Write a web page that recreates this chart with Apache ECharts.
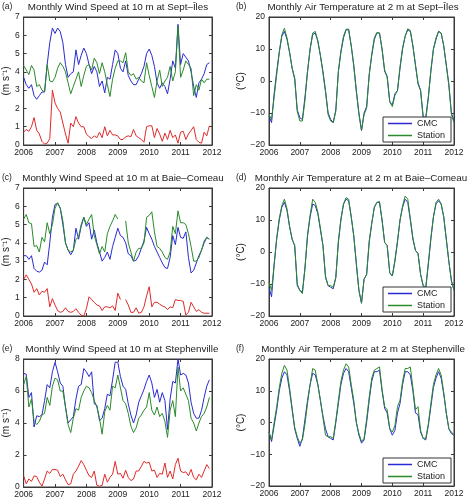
<!DOCTYPE html>
<html><head><meta charset="utf-8">
<script src="https://cdn.jsdelivr.net/npm/echarts@6/dist/echarts.min.js"></script>
<style>html,body{margin:0;padding:0;background:#fff}#c{width:472px;height:500px}</style>
</head><body><div id="c"></div>
<script>
// ---- tick labels ----
const yearTicks = [2006, 2007, 2008, 2009, 2010, 2011, 2012];
const startYear = 2006;

// ---- (a) Sept-Îles wind speed (m s-1), monthly Jan 2006 - Dec 2011 ----
const windA_cmc = [3.7,3.3,3.1,3.3,2.7,2.5,2.7,2.9,2.9,4.4,5.6,6.4,
  6.1,6.4,6.2,5.6,4.4,3.7,3.9,4.0,5.2,4.4,4.9,5.3,
  5.0,4.4,3.9,4.3,4.0,3.2,3.5,2.85,3.7,3.6,4.4,5.2,
  5.0,4.2,4.0,4.6,3.8,3.5,3.3,3.3,3.6,3.9,4.3,5.0,
  5.25,4.9,4.3,3.4,3.1,3.4,3.2,2.8,3.6,4.6,4.2,6.6,
  4.4,5.0,4.8,4.6,4.0,3.2,2.6,3.4,3.6,3.9,4.4,4.5];
const windA_stn = [4.35,4.1,3.85,4.35,4.1,3.2,3.3,3.0,2.9,4.4,3.5,3.45,
  3.7,4.2,4.5,4.3,4.0,3.4,2.8,3.2,3.6,4.0,3.2,3.8,
  4.3,4.4,4.1,4.75,4.5,3.9,4.5,4.0,3.3,2.65,3.6,4.2,
  4.6,4.6,4.5,5.05,4.0,3.8,3.9,3.6,3.7,3.5,3.4,4.5,
  3.8,3.2,2.6,3.5,4.1,3.2,3.5,3.7,4.3,3.5,4.0,6.5,
  3.7,4.1,4.6,4.4,4.2,2.7,3.3,3.0,3.6,3.4,3.6,3.6];
const windA_diff = [0.7,0.85,0.75,1.0,1.5,0.8,0.6,0.2,0.05,0.1,0.35,3.0,
  2.3,2.0,1.8,1.2,0.6,0.1,1.2,1.0,1.55,1.2,1.0,1.0,
  0.6,0.45,0.35,0.5,0.4,0.7,0.4,1.0,0.5,0.8,0.55,0.55,
  0.5,0.3,0.3,0.45,0.5,0.45,0.85,0.5,0.4,0.3,0.15,1.0,
  1.05,1.05,0.4,0.9,0.6,0.2,0.65,0.3,0.8,0.4,0.55,0.1,
  0.7,0.75,0.3,0.6,0.8,1.0,0.3,0.15,0.1,0.7,0.5,1.05];

// ---- (b) Sept-Îles air temperature (°C), Jan 2006 - Jan 2012 ----
const tempB_cmc = [-11,-13,-4,3,9,14,15.5,13,9,4,1,-9,
  -11.5,-12,-5,3,10,14.5,15,12.5,8,3,-3,-10,
  -12,-13,-9,3,9,13.5,16,16,11,5,-3,-10,
  -15.5,-10,-8,2,8,13,15,15,10,3,1.5,-6.5,
  -7.5,-4,-3,4,10,14,16,15.5,11,5,-0.5,-3,
  -11,-11.5,-5,3,10,13,15.5,15,11,5,-1,-10,
  -12.5];
const tempB_stn = [-10.5,-12,-5,2,9,14.5,16.5,13.5,9,4,0.5,-9.5,
  -12.5,-12.5,-6,3,10,15,15.5,12.5,8,2.5,-3.5,-10.5,
  -12.5,-13,-9.5,3,9.5,14,16.2,16.2,11,4.5,-3.5,-10.5,
  -15.5,-10.5,-8.5,2,8.5,13.5,15.2,15,10,3.5,1,-6.5,
  -8,-4.5,-3,4.5,10.5,14,16.3,15.8,11,5,-1,-3,
  -11.5,-12,-5.5,3.5,10,13.5,15.5,15,11,5,-1.5,-10.5,
  -13];

// ---- (c) Baie-Comeau wind speed ----
const windC_cmc = [3.3,3.3,3.1,3.3,2.6,2.45,2.4,2.5,2.95,2.8,4.0,5.4,
  6.1,6.15,5.9,5.0,4.0,3.6,3.35,3.6,4.8,4.2,4.9,5.4,
  4.9,5.1,4.2,4.7,4.0,3.5,3.0,3.2,3.5,3.1,3.8,4.3,
  4.8,4.4,4.3,4.0,3.4,3.3,3.0,3.05,3.3,3.7,4.1,4.85,
  4.5,4.2,3.8,3.5,3.2,2.9,2.65,2.6,3.2,4.4,3.9,4.85,
  4.3,4.25,4.6,3.2,2.35,2.5,2.9,3.3,3.6,4.0,4.3,4.2];
const windC_stn = [5.3,5.55,5.1,5.05,3.8,3.85,3.5,4.3,4.05,5.1,4.5,5.0,
  5.9,6.2,5.9,5.2,4.0,3.6,3.5,3.6,4.2,4.3,5.0,5.4,
  5.0,5.3,5.55,4.4,3.9,3.4,3.8,3.5,4.5,4.9,5.2,5.55,
  5.3,null,null,5.2,4.0,3.5,3.0,3.5,3.7,3.7,4.0,5.4,
  5.5,5.7,4.6,3.8,3.7,3.5,3.2,3.1,3.5,4.9,4.5,5.75,
  5.1,5.1,5.0,4.5,3.8,3.0,3.0,3.2,3.6,4.1,4.3,4.2];
const windC_diff = [2.0,2.25,2.0,1.75,1.3,1.5,1.15,1.35,1.3,1.5,0.5,0.95,
  0.6,0.3,0.2,0.25,0.45,0.25,0.2,0.25,0.4,0.2,0.05,0.0,
  0.4,1.05,0.9,0.75,0.6,0.55,0.3,0.5,0.5,0.45,0.55,0.3,
  1.25,0.9,null,0.9,0.6,0.2,0.2,0.45,0.15,0.2,0.5,1.1,
  1.6,0.5,0.75,0.75,0.65,0.55,0.5,0.35,0.5,0.45,0.9,0.85,
  0.85,0.8,0.05,0.2,0.75,0.5,0.25,0.35,0.2,0.15,0.15,0.15];

// ---- (d) Baie-Comeau air temperature ----
const tempD_cmc = [-11,-14,-4,4,10,14,15.5,13,8,4,2,-10.5,
  -12,-12.5,-5,5,11,15,14.5,12,7,2,-8,-10.5,
  -11,-11.5,-8,3,10,15,16.5,16,11,5,-4,-12,
  -16,-8.5,-7,3,9,14,15.5,15.5,10,3,2,-6.5,
  -7.5,-3,3,10,14,16.5,15.5,10,4,0.5,-0.5,-7,
  -10.5,-11.5,-4,4,11,15,16,15,11,4,-3,-9,
  -12];
const tempD_stn = [-9.5,-12,-4,4.5,10.5,14.5,16.5,13.5,8,4,2,-10,
  -12,-13,-5,5.5,11.5,16.5,15.5,12.5,7.5,2,-7.5,-10.5,
  -10.5,-11,-8,3.5,10.5,15,17,16.5,11,5,-3.5,-12,
  -16,-8.5,-7,3.5,9,14,15.5,15.8,10,3,2,-6.5,
  -7.5,-2.5,3.5,10,14.5,17.5,16.5,10.5,4.5,0.5,-0.5,-7,
  -10.5,-11,-3.5,4.5,11,15.5,16.5,15,11,4,-3,-9,
  -12];

// ---- (e) Stephenville wind speed ----
const windE_cmc = [7.1,7.05,5.6,5.9,3.75,4.45,4.4,4.5,5.4,6.4,6.2,7.2,
  7.8,7.2,6.5,6.3,5.0,4.0,4.2,4.4,5.5,6.3,6.4,7.4,
  7.2,6.9,7.2,5.2,5.1,4.15,4.3,4.9,5.8,5.7,6.7,7.8,
  7.8,6.9,6.3,6.1,5.2,4.5,4.0,4.5,5.3,5.7,6.1,6.6,
  7.0,6.5,5.6,6.1,5.3,5.9,5.4,3.6,5.5,6.6,6.5,8.0,
  7.0,7.1,7.0,6.5,5.3,4.6,4.3,4.3,4.8,5.6,6.3,6.7];
const windE_stn = [6.4,6.9,5.0,5.5,4.1,3.9,4.1,4.5,4.6,5.6,5.1,6.3,
  6.8,6.7,6.0,6.0,5.0,3.9,3.4,4.3,4.9,4.8,5.6,6.0,
  6.3,6.2,5.9,5.4,5.0,4.3,3.3,4.7,5.1,4.8,6.3,6.2,
  7.0,6.2,5.4,5.2,4.6,3.8,3.4,3.7,4.3,4.5,4.8,5.0,
  5.9,4.8,4.5,5.0,4.4,4.6,4.1,3.1,4.8,5.4,4.4,7.5,
  6.0,6.2,5.8,5.4,4.3,4.0,3.5,4.0,4.4,4.6,5.0,5.6];
const windE_diff = [0.7,0.2,0.5,0.35,0.7,0.65,0.3,0.05,0.5,1.0,0.85,1.1,
  1.1,1.05,0.65,0.8,0.45,0.15,0.2,0.8,1.0,1.3,1.65,1.4,
  1.05,0.7,0.6,1.0,0.1,0.05,0.1,0.8,0.3,0.6,0.8,1.6,
  0.8,0.85,0.55,1.05,0.6,0.4,0.5,1.0,1.0,1.3,1.6,1.5,
  1.55,1.0,1.05,0.6,0.85,0.8,1.5,0.6,1.0,0.5,1.4,1.8,
  1.0,0.9,0.95,0.7,1.1,0.6,0.45,0.8,0.6,1.0,1.4,1.15];

// ---- (f) Stephenville air temperature ----
const tempF_cmc = [-3,-6,-1,4,10,14,16,15,10,4,-2,-5,
  -7.5,-5,1,7,12,15.5,15,12,7,2,-2,-4.5,
  -5,-5.5,0,6,12,15.5,17,16,11,6,0,-4,
  -6.5,-5.5,0,7,13,16,16,16.5,10,4.5,3,-2,
  -4,-2.5,3,6,12,16,16,15,10,3,2.5,-3,
  -5,-5.5,-1,5,11,14,16,14,9,3,-2,-3.5,
  -4];
const tempF_stn = [-3,-5.5,0,5,11,15.5,18,16.5,11,4.5,-1.5,-4.5,
  -6.5,-5.5,-0.5,6,12,17,16.5,12,7,1.5,-4,-4.5,
  -4.5,-5,0.5,7,13,16.5,18.5,17.5,12,7,0,-3.5,
  -6,-5,1,8,14,16.5,17,17.5,10.5,5,4,-2,
  -3,-1,5,7,13,17,17,17.5,11,4,5,-2.5,
  -5,-5,-0.5,6,12,15,17,15,9.5,3,-2,-3,
  -4];

const C_BLUE = '#2a2ad2', C_GREEN = '#2a8a2a', C_RED = '#e02a2a';
const FONT = 'Liberation Sans';

const panels = [
  {tag:'(a)', title:'Monthly Wind Speed at 10 m at Sept\u2013\u00CEles', left:23, top:17, w:189, h:128, tcx:118,
   ymin:0, ymax:7, yint:1, yname:'(m s\u207B\u00B9)', nameGap:10,
   lines:[['CMC',windA_cmc,C_BLUE],['Station',windA_stn,C_GREEN],['Difference',windA_diff,C_RED]]},
  {tag:'(b)', title:'Monthly Air Temperature at 2 m at Sept\u2013\u00CEles', left:269, top:17, w:185, h:128, tcx:363,
   ymin:-20, ymax:20, yint:10, yname:'(\u00B0C)', nameGap:20, legendTop:117,
   lines:[['CMC',tempB_cmc,C_BLUE],['Station',tempB_stn,C_GREEN]]},
  {tag:'(c)', title:'Monthly Wind Speed at 10 m at Baie\u2013Comeau', left:23, top:188, w:189, h:128, tcx:123,
   ymin:0, ymax:7, yint:1, yname:'(m s\u207B\u00B9)', nameGap:10,
   lines:[['CMC',windC_cmc,C_BLUE],['Station',windC_stn,C_GREEN],['Difference',windC_diff,C_RED]]},
  {tag:'(d)', title:'Monthly Air Temperature at 2 m at Baie\u2013Comeau', left:269, top:188, w:185, h:128, tcx:361,
   ymin:-20, ymax:20, yint:10, yname:'(\u00B0C)', nameGap:20, legendTop:287,
   lines:[['CMC',tempD_cmc,C_BLUE],['Station',tempD_stn,C_GREEN]]},
  {tag:'(e)', title:'Monthly Wind Speed at 10 m at Stephenville', left:23, top:359, w:189, h:128, tcx:122,
   ymin:0, ymax:8, yint:2, yname:'(m s\u207B\u00B9)', nameGap:10,
   lines:[['CMC',windE_cmc,C_BLUE],['Station',windE_stn,C_GREEN],['Difference',windE_diff,C_RED]]},
  {tag:'(f)', title:'Monthly Air Temperature at 2 m at Stephenville', left:269, top:359, w:185, h:127, tcx:363,
   ymin:-20, ymax:20, yint:10, yname:'(\u00B0C)', nameGap:20, legendTop:458,
   lines:[['CMC',tempF_cmc,C_BLUE],['Station',tempF_stn,C_GREEN]]}
];

const grids = [], xAxes = [], yAxes = [], series = [], titles = [], legends = [];
const lineCol = '#3a3a3a';
const minus = v => String(v).replace('-', '\u2212');

panels.forEach((p, k) => {
  grids.push({left:p.left, top:p.top, width:p.w, height:p.h, show:true, borderColor:lineCol, borderWidth:1, backgroundColor:'#fff'});
  const xa = {type:'value', gridIndex:k, min:yearTicks[0], max:yearTicks[yearTicks.length-1], interval:1,
    axisLine:{show:true, onZero:false, lineStyle:{color:lineCol, width:1}},
    axisTick:{show:true, inside:true, length:3, lineStyle:{color:lineCol}},
    axisLabel:{show:true, fontSize:8.5, color:'#222', fontFamily:FONT, margin:3, formatter:v=>String(v)},
    splitLine:{show:false}};
  xAxes.push(xa);
  xAxes.push(Object.assign({}, xa, {position:'top', axisLabel:{show:false}}));
  const ya = {type:'value', gridIndex:k, min:p.ymin, max:p.ymax, interval:p.yint,
    name:p.yname, nameLocation:'middle', nameGap:p.nameGap, nameRotate:90,
    nameTextStyle:{fontSize:10, color:'#222', fontFamily:FONT},
    axisLine:{show:true, onZero:false, lineStyle:{color:lineCol, width:1}},
    axisTick:{show:true, inside:true, length:3, lineStyle:{color:lineCol}},
    axisLabel:{show:true, fontSize:8.5, color:'#222', fontFamily:FONT, margin:4, formatter:minus},
    splitLine:{show:false}};
  yAxes.push(ya);
  yAxes.push(Object.assign({}, ya, {position:'right', name:'', axisLabel:{show:false}}));
  titles.push({text:p.title, left:p.tcx, top:p.top - 15, textAlign:'center', padding:0,
    textStyle:{fontSize:9.8, fontWeight:'normal', color:'#222', fontFamily:FONT}});
  titles.push({text:p.tag, left:(p.left < 100 ? 2 : 236), top:p.top - 15, padding:0,
    textStyle:{fontSize:8.5, fontWeight:'normal', color:'#222', fontFamily:FONT}});
  p.lines.forEach(([name, vals, col]) => {
    series.push({type:'line', name:name, xAxisIndex:2*k, yAxisIndex:2*k,
      data: vals.map((v, i) => [startYear + i/12, v]),
      showSymbol:false, symbol:'none', connectNulls:false, animation:false,
      lineStyle:{color:col, width:1}, itemStyle:{color:col}});
  });
  if (p.legendTop !== undefined) {
    legends.push({data:['CMC','Station'], orient:'vertical', left:383, top:p.legendTop,
      backgroundColor:'#fff', borderColor:'#333', borderWidth:1, padding:[1,6,1,5],
      icon:'rect', itemWidth:24, itemHeight:1.5, itemGap:1, selectedMode:false,
      textStyle:{fontSize:9, color:'#222', fontFamily:FONT, lineHeight:11}});
  }
});

const chart = echarts.init(document.getElementById('c'), null, {renderer:'canvas'});
chart.setOption({
  animation:false,
  textStyle:{fontFamily:FONT},
  title:titles, legend:legends, grid:grids, xAxis:xAxes, yAxis:yAxes, series:series
});
</script></body></html>
